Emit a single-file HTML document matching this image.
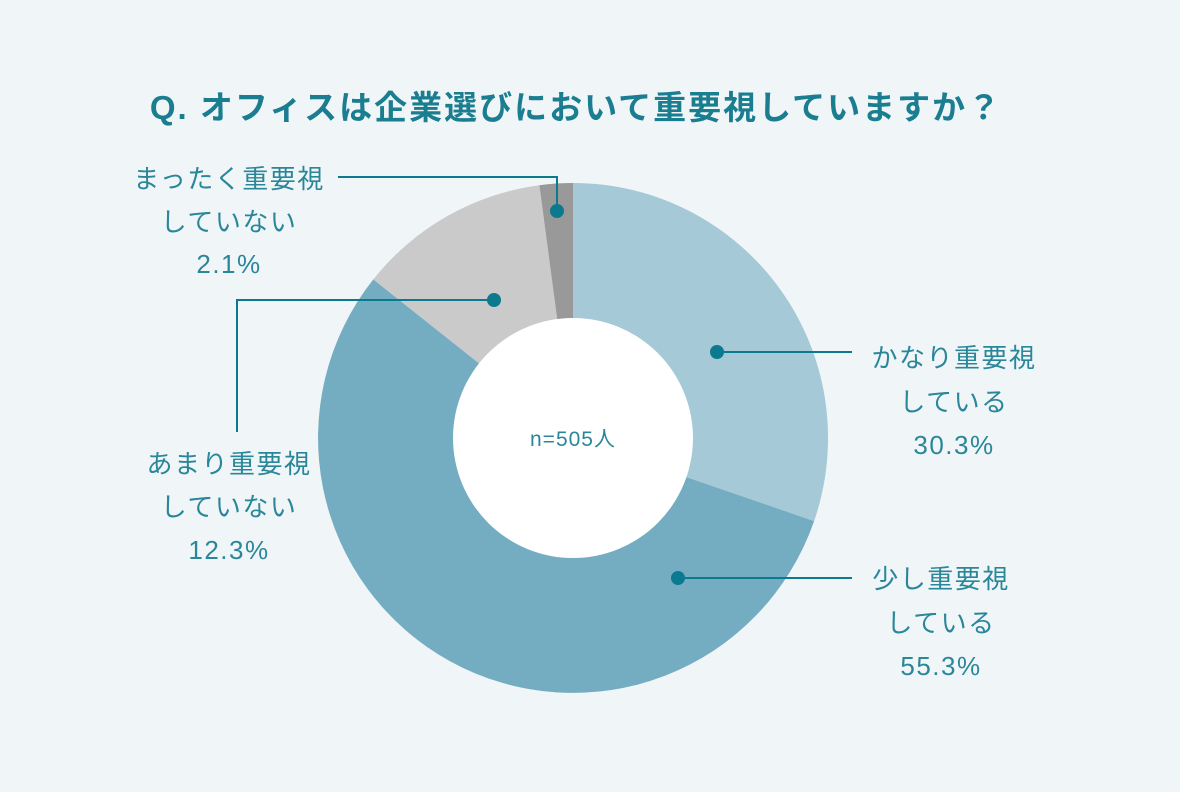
<!DOCTYPE html>
<html><head><meta charset="utf-8"><style>
body{margin:0;width:1180px;height:787px;background:#f0f5f8;overflow:hidden;font-family:"Liberation Sans","Noto Sans CJK JP",sans-serif}
</style></head><body>
<svg width="1180" height="787" viewBox="0 0 1180 787" xmlns="http://www.w3.org/2000/svg" style="font-family:'Liberation Sans','Noto Sans CJK JP',sans-serif">
<rect width="1180" height="787" fill="#f0f5f8"/>
<text x="576" y="119" text-anchor="middle" font-size="33" font-weight="bold" letter-spacing="2" fill="#1a7d90">Q. オフィスは企業選びにおいて重要視していますか？</text>
<g transform="translate(573,438)">
<path d="M0,-255 A255,255 0 0 1 241.1,83.1 L0,0Z" fill="#a5c9d6"/>
<path d="M241.1,83.1 A255,255 0 1 1 -199.7,-158.6 L0,0Z" fill="#74adc2"/>
<path d="M-199.7,-158.6 A255,255 0 0 1 -33.6,-252.8 L0,0Z" fill="#cacaca"/>
<path d="M-33.6,-252.8 A255,255 0 0 1 0,-255 L0,0Z" fill="#999999"/>
<circle r="120" fill="#ffffff"/>
</g>
<text x="573" y="446" text-anchor="middle" font-size="21" letter-spacing="1" fill="#2a8799">n=505人</text>
<g stroke="#0b7a8f" stroke-width="2" fill="none">
<polyline points="338,177 557,177 557,211"/>
<polyline points="494,300 237,300 237,432"/>
<line x1="717" y1="352" x2="852" y2="352"/>
<line x1="678" y1="578" x2="852" y2="578"/>
</g>
<g fill="#0b7a8f">
<circle cx="557" cy="211" r="7"/><circle cx="494" cy="300" r="7"/>
<circle cx="717" cy="352" r="7"/><circle cx="678" cy="578" r="7"/>
</g>
<g font-size="26" letter-spacing="1.5" fill="#2a8799" text-anchor="middle">
<text x="229" y="188">まったく重要視</text><text x="229" y="231">していない</text><text x="229" y="273">2.1%</text>
<text x="229" y="473">あまり重要視</text><text x="229" y="516">していない</text><text x="229" y="559">12.3%</text>
<text x="954" y="367">かなり重要視</text><text x="954" y="411">している</text><text x="954" y="454">30.3%</text>
<text x="941" y="588">少し重要視</text><text x="941" y="632">している</text><text x="941" y="675">55.3%</text>
</g>
</svg>
</body></html>
